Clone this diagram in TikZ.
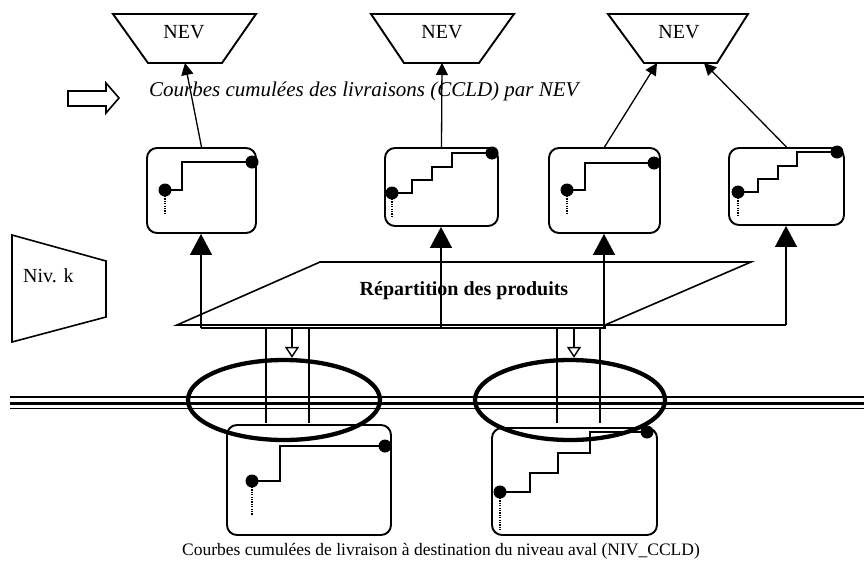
\documentclass[tikz,border=0pt]{standalone}
\usepackage{fontspec}
\setmainfont{Liberation Serif}
\usetikzlibrary{arrows.meta,shapes.geometric}
\begin{document}
\begin{tikzpicture}[x=1pt,y=-1pt,
  ln/.style={line width=1.3pt},
  curvebox/.style={draw, line width=1.9pt, rounded corners=10pt, inner sep=0pt},
  stepline/.style={line width=1.7pt},
  dotline/.style={line width=1.4pt, dash pattern=on 1.2pt off 1.2pt},
  smallarrow/.style={line width=1.3pt, -{Triangle[length=12pt,width=12pt]}},
  bigarrow/.style={line width=1.3pt, -{Triangle[length=21pt,width=22pt]}},
  downarrow/.style={line width=1.3pt, -{Triangle[open,length=11pt,width=14pt,fill=white,line width=1.4pt]}},
  ring/.style={draw, ellipse, line width=4.3pt, inner sep=0pt},
  txt/.style={font=\fontsize{20}{24}\selectfont, inner sep=0pt},
]
\useasboundingbox (0,0) rectangle (864,565);

% NEV trapezoids
\draw[line width=1.9pt] (113,14) -- (256,14) -- (222,63) -- (148,63) -- cycle;
\draw[line width=1.9pt] (371,14) -- (514,14) -- (479,63) -- (404,63) -- cycle;
\draw[line width=1.9pt] (608,14) -- (748,14) -- (717,63) -- (644,63) -- cycle;
\node[txt] (nev1) at (184,32) {NEV};
\node[txt] (nev2) at (442,32) {NEV};
\node[txt] (nev3) at (679,32) {NEV};
\coordinate (t1b) at (185,63);
\coordinate (t2b) at (442,63);
\coordinate (t3l) at (657,63);
\coordinate (t3r) at (704,63);

% hollow arrow and caption
\draw[line width=1.6pt] (68,91) -- (106,91) -- (106,83) -- (119,98) -- (106,113) -- (106,106) -- (68,106) -- cycle;
\node[txt, anchor=west, font=\fontsize{21}{25}\selectfont\itshape] (cap) at (149,91) {Courbes cumulées des livraisons (CCLD) par NEV};

% upper curve boxes
\node[curvebox, minimum width=109pt, minimum height=85pt] (b1) at (201.5,190.5) {};
\node[curvebox, minimum width=113pt, minimum height=78pt] (b2) at (441.5,187) {};
\node[curvebox, minimum width=111pt, minimum height=85pt] (b3) at (604.5,190.5) {};
\node[curvebox, minimum width=115pt, minimum height=77pt] (b4) at (786.5,186.5) {};

% step curves box1
\draw[stepline] (165,190) -- (182,190) -- (182,162) -- (252,162);
\fill (165,190) circle (6.5pt); \fill (252,162) circle (6.5pt);
\draw[dotline] (165,196) -- (165,213);
% box2
\draw[stepline] (392,193) -- (412,193) -- (412,180) -- (432,180) -- (432,167) -- (452,167) -- (452,153) -- (492,153);
\fill (392,193) circle (6.5pt); \fill (492,153) circle (6.5pt);
\draw[dotline] (392,199) -- (392,216);
% box3
\draw[stepline] (567,190) -- (585,190) -- (585,163) -- (654,163);
\fill (567,190) circle (6.5pt); \fill (654,163) circle (6.5pt);
\draw[dotline] (567,196) -- (567,213);
% box4
\draw[stepline] (738,192) -- (758,192) -- (758,179) -- (778,179) -- (778,166) -- (797,166) -- (797,152) -- (837,152);
\fill (738,192) circle (6.5pt); \fill (837,152) circle (6.5pt);
\draw[dotline] (738,198) -- (738,215);

% arrows to NEV
\draw[smallarrow] (b1.north) -- (t1b);
\draw[smallarrow] (b2.north) -- (t2b);
\draw[smallarrow] (b3.north) -- (t3l);
\draw[smallarrow] (b4.north) -- (t3r);

% Niv. k
\draw[line width=1.6pt] (12,235) -- (106,261) -- (106,317) -- (12,342) -- cycle;
\node[txt, anchor=west] (niv) at (23,276) {Niv. k};

% parallelogram
\draw[line width=1.6pt] (177,325) -- (320,262) -- (751,262) -- (605,325) -- cycle;
\node[txt, font=\fontsize{20}{24}\selectfont\bfseries] (rep) at (464,291) {Répartition des produits};

% bus and arrows up
\coordinate (j1) at (201,328);
\coordinate (j2) at (441,328);
\coordinate (j3) at (604,328);
\coordinate (j4) at (786,325);
\draw[ln] (j1) -- (605,328) -- (605,325) -- (j4);
\draw[bigarrow] (j1) -- (j1 |- b1.south);
\draw[bigarrow] (j2) -- (j2 |- b2.south);
\draw[bigarrow] (j3) -- (j3 |- b3.south);
\draw[bigarrow] (j4) -- (j4 |- b4.south);

% triple line
\draw[line width=1.3pt] (10,397) -- (864,397);
\draw[line width=3pt] (10,403) -- (864,403);
\draw[line width=1.3pt] (10,408.5) -- (864,408.5);

% pairs of vertical lines
\draw[line width=1.1pt] (266,327) -- (266,423);
\draw[line width=1.1pt] (309,327) -- (309,423);
\draw[line width=1.1pt] (557,327) -- (557,423);
\draw[line width=1.1pt] (600,327) -- (600,423);

% lower boxes
\node[curvebox, minimum width=164pt, minimum height=110pt] (b5) at (309,480) {};
\node[curvebox, minimum width=165pt, minimum height=107pt] (b6) at (574.5,481.5) {};
\draw[stepline] (252,481) -- (280,481) -- (280,446) -- (385,446);
\fill (252,481) circle (6.5pt); \fill (385,446) circle (6.5pt);
\draw[dotline] (252,487) -- (252,515);
\draw[stepline] (500,492) -- (530,492) -- (530,473) -- (558,473) -- (558,453) -- (590,453) -- (590,432) -- (647,432);
\fill (500,492) circle (6.5pt); \fill (647,432) circle (6.5pt);
\draw[dotline] (500,498) -- (500,530);

% ellipses
\node[ring, minimum width=192pt, minimum height=80pt] (e1) at (284,400) {};
\node[ring, minimum width=190pt, minimum height=80pt] (e2) at (570,400) {};
\coordinate (d1) at (292,327);
\coordinate (d2) at (574,327);
\draw[downarrow] (d1) -- (d1 |- e1.north);
\draw[downarrow] (d2) -- (d2 |- e2.north);

\node[txt, font=\fontsize{17.5}{21}\selectfont] (bottom) at (441,551) {Courbes cumulées de livraison à destination du niveau aval (NIV\_CCLD)};
\end{tikzpicture}
\end{document}
